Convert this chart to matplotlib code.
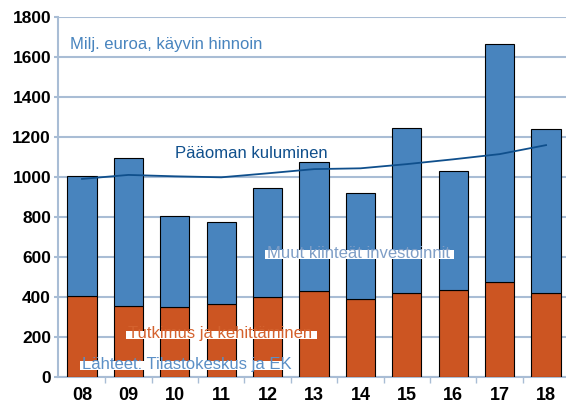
import matplotlib.pyplot as plt
from matplotlib.patches import Rectangle
import numpy as np

plt.rcParams['font.family'] = ['Liberation Sans', 'DejaVu Sans']

# data (milj. euroa)
years = ['08', '09', '10', '11', '12', '13', '14', '15', '16', '17', '18']
tutkimus = [406, 358, 353, 365, 400, 433, 392, 420, 435, 477, 420]
kokonais = [1008, 1098, 806, 775, 945, 1078, 920, 1245, 1032, 1668, 1242]
kuluminen = [992, 1012, 1005, 1000, 1020, 1041, 1045, 1066, 1090, 1116, 1161]
muut = [k - t for k, t in zip(kokonais, tutkimus)]

blue = '#4884be'
orange = '#cc5522'
grid_c = '#a9bdd5'
line_c = '#0f4f8c'

fig = plt.figure(figsize=(5.66, 4.05), dpi=100)
ax = fig.add_axes([0.1025, 0.0684, 0.8975, 0.8888])

x = np.arange(len(years))
ax.bar(x, tutkimus, width=0.63, color=orange, edgecolor='black', linewidth=0.8, zorder=3)
ax.bar(x, muut, width=0.63, bottom=tutkimus, color=blue, edgecolor='black', linewidth=0.8, zorder=3)
ax.plot(x, kuluminen, color=line_c, linewidth=1.3, zorder=4)

ax.set_xlim(-0.517, 10.43)
ax.set_ylim(0, 1800)
ax.set_yticks(range(0, 1801, 200))
ax.yaxis.grid(True, color=grid_c, linewidth=1.5, zorder=0)
ax.set_axisbelow(True)

ax.set_xticks(x)
ax.set_xticklabels(years)
ax.set_xticks(x[:-1] + 0.5, minor=True)
ax.tick_params(axis='x', which='major', length=0, pad=7)
ax.tick_params(axis='x', which='minor', length=4, width=1, color=grid_c)
ax.tick_params(axis='y', length=3, width=1.5, color=grid_c, pad=2)
for lab in ax.get_xticklabels():
    lab.set_fontsize(13)
    lab.set_fontweight('bold')
for lab in ax.get_yticklabels():
    lab.set_fontsize(12.5)
    lab.set_fontweight('bold')

for side in ['top', 'right']:
    ax.spines[side].set_visible(False)
ax.spines['left'].set_color(grid_c)
ax.spines['left'].set_linewidth(1.5)
ax.spines['bottom'].set_color(grid_c)
ax.spines['bottom'].set_linewidth(1.5)

# white strips behind the lower part of the series labels
def strip(x0, y0, x1, y1):
    fig.patches.append(Rectangle((x0 / 566, 1 - y1 / 405), (x1 - x0) / 566, (y1 - y0) / 405,
                                 transform=fig.transFigure, facecolor='white',
                                 edgecolor='none', zorder=5))

strip(265, 250, 454, 259)
strip(126, 331, 317, 339)
strip(80, 361, 290, 370)

def label(px, py, s, c, size=12):
    fig.text(px / 566, 1 - py / 405, s, color=c, fontsize=size, ha='left', va='baseline', zorder=6)

label(70, 48.5, 'Milj. euroa, käyvin hinnoin', blue)
label(175, 158, 'Pääoman kuluminen', line_c)
label(267, 258, 'Muut kiinteät investoinnit', '#7f9ec6')
label(128, 338, 'Tutkimus ja kehittäminen', '#d4622e')
label(82, 368.5, 'Lähteet: Tilastokeskus ja EK', '#5b8fc6')

fig.savefig('out.png', dpi=100)
